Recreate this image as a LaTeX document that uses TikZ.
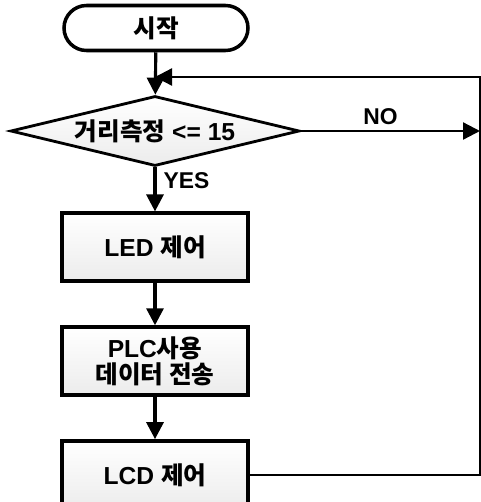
\documentclass[tikz,border=0pt]{standalone}
\usepackage{fontspec}
\setmainfont{Liberation Sans}
\newfontfamily\kr{Noto Sans CJK KR}
\usepackage{tikz}
\usetikzlibrary{arrows.meta,positioning,shapes.geometric,calc}

\begin{document}
\begin{tikzpicture}[
terminal/.style={draw,line width=2pt,rounded corners=0.45cm,fill=white,minimum width=3.68cm,minimum height=0.9cm,font=\bfseries\fontsize{14}{16}\selectfont},
decision/.style={draw,diamond,aspect=4.1,line width=1.6pt,top color=white,bottom color=gray!15,minimum width=5.78cm,minimum height=1.4cm,inner sep=0pt,font=\bfseries\fontsize{14}{16}\selectfont},
caja/.style={draw,line width=2.2pt,top color=white,bottom color=gray!15,minimum width=3.72cm,minimum height=1.36cm,align=center,font=\bfseries\fontsize{14}{15}\selectfont},
arr/.style={-{Triangle[length=3.4mm,width=3.4mm]},line width=1.8pt},
lbl/.style={font=\bfseries\fontsize{13}{14}\selectfont,inner sep=1pt}
]
\useasboundingbox (0,0) rectangle (9.62,-10.04);

\node[terminal] (inicio) at (3.12,-0.56) {\kr 시작};
\node[decision] (medir) at (3.1,-2.62) {{\kr 거리측정} <= 15};
\node[caja,below=0.88cm of medir] (led) {LED {\kr 제어}};
\node[caja,below=0.84cm of led] (plc) {PLC{\kr 사용}\\{\kr 데이터 전송}};
\node[caja,below=0.84cm of plc] (lcd) {LCD {\kr 제어}};

\coordinate (union) at (3.1,-1.54);
\coordinate (derecha) at (9.6,-2.62);

\draw[arr] (inicio) -- (medir);
\draw[arr] (medir) -- (led) node[lbl,pos=0.3,right=3pt] {YES};
\draw[arr] (led) -- (plc);
\draw[arr] (plc) -- (lcd);
\draw[arr,line width=1.3pt] (medir.east) -- (derecha) node[lbl,midway,above=2pt,xshift=-2mm] {NO};
\draw[arr,line width=1.3pt] (lcd.east) -| (derecha) |- (union);
\end{tikzpicture}
\end{document}
